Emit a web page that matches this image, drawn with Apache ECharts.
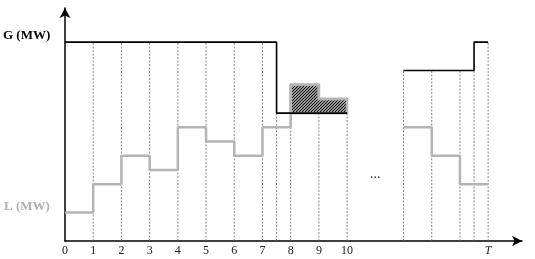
<!DOCTYPE html>
<html><head><meta charset="utf-8">
<script src="https://cdn.jsdelivr.net/npm/echarts@6/dist/echarts.min.js"></script>
<style>html,body{margin:0;padding:0;background:#fff}#c{width:535px;height:259px}</style>
</head><body><div id="c"></div>
<script>
// ---- data ----
const tickLabels = ['0','1','2','3','4','5','6','7','8','9','10'];
const tLabelPos = 15;             // position of "T"
// G (generation) steps: edges and values per interval
const gLeftEdges = [0, 7.5, 10];
const gLeftVals  = [14, 9];
const gRightEdges = [12, 14.5, 15];
const gRightVals  = [12, 14];
// L (load) steps
const lLeftEdges = [0,1,2,3,4,5,6,7,8,9,10];
const lLeftVals  = [2,4,6,5,8,7,6,8,11,10];
const lRightEdges = [12,13,14,15];
const lRightVals  = [8,6,4];
// deficit (hatched) region: L above G
const hatchEdges = [8, 9, 10];
const hatchL = [11, 10];
const hatchG = 9;
// dashed verticals
const dashX = [1,2,3,4,5,6,7,7.5,8,9,10,12,13,14,14.5,15];
const dotsPos = [11, 4.7];

function stepData(edges, vals){
  const d = edges.slice(0,-1).map((e,i)=>[e, vals[i]]);
  d.push([edges[edges.length-1], vals[vals.length-1]]);
  return d;
}
function gAt(x){
  const segs = [[gLeftEdges,gLeftVals],[gRightEdges,gRightVals]];
  let best = null;
  for (const [e,v] of segs){
    for (let i=0;i<v.length;i++){
      if (x>=e[i] && x<=e[i+1]) best = best===null ? v[i] : Math.min(best, v[i]);
    }
  }
  return best===null?0:best;
}
// hatch pattern
const pc = document.createElement('canvas');
pc.width = 3; pc.height = 3;
const g2 = pc.getContext('2d');
g2.fillStyle = '#fff'; g2.fillRect(0,0,3,3);
g2.strokeStyle = '#111'; g2.lineWidth = 1.3;
[[-1,4,4,-1],[-1,1,1,-1],[2,4,4,2]].forEach(([a,b,c,d])=>{
  g2.beginPath(); g2.moveTo(a,b); g2.lineTo(c,d); g2.stroke();
});

const serif = 'Liberation Serif';
const chart = echarts.init(document.getElementById('c'), null, {renderer:'canvas'});
chart.setOption({
  animation:false,
  grid:{left:65, right:13, top:8, bottom:18},
  xAxis:{type:'value', min:0, max:16.2, interval:1,
    axisLine:{show:true, symbol:['none','arrow'], symbolSize:[8,10], lineStyle:{color:'#000', width:1.5}},
    axisTick:{show:false}, splitLine:{show:false},
    axisLabel:{margin:4, fontFamily:serif, fontSize:12, color:'#222',
      formatter:v=> v<tickLabels.length && Number.isInteger(v) ? tickLabels[v] : (v===tLabelPos?'{t|T}':''),
      rich:{t:{fontStyle:'italic', fontFamily:serif, fontSize:12, color:'#222'}}}},
  yAxis:{type:'value', min:0, max:16.4,
    axisLine:{show:true, symbol:['none','arrow'], symbolSize:[8,10], lineStyle:{color:'#000', width:1.5}},
    axisTick:{show:false}, splitLine:{show:false}, axisLabel:{show:false}},
  graphic:[
    {type:'text', left:3, top:29, style:{text:'G (MW)', font:'bold 13px "Liberation Serif"', fill:'#000'}},
    {type:'text', left:4, top:200, style:{text:'L (MW)', font:'bold 13px "Liberation Serif"', fill:'#b0b0b0'}}
  ],
  series:[
    {type:'custom', z:1, silent:true,
      data: dashX.map(x=>[x, gAt(x)]),
      renderItem:(params, api)=>{
        const p0 = api.coord([api.value(0), 0]);
        const p1 = api.coord([api.value(0), api.value(1)]);
        return {type:'line', shape:{x1:p0[0], y1:p0[1], x2:p1[0], y2:p1[1]},
          style:{stroke:'#666', lineWidth:0.8, lineDash:[2,1.5]}};
      }},
    {type:'custom', z:2, silent:true, data:[[0]],
      renderItem:(params, api)=>{
        const pts = [api.coord([hatchEdges[0], hatchG])];
        for (let i=0;i<hatchL.length;i++){
          pts.push(api.coord([hatchEdges[i], hatchL[i]]));
          pts.push(api.coord([hatchEdges[i+1], hatchL[i]]));
        }
        pts.push(api.coord([hatchEdges[hatchEdges.length-1], hatchG]));
        return {type:'polygon', shape:{points:pts},
          style:{fill:{image:pc, repeat:'repeat'}, stroke:'#b4b4b4', lineWidth:2.5}};
      }},
    {type:'line', z:3, step:'end', data:stepData(lLeftEdges,lLeftVals), symbol:'none',
      lineStyle:{color:'#b4b4b4', width:2.5}},
    {type:'line', z:3, step:'end', data:stepData(lRightEdges,lRightVals), symbol:'none',
      lineStyle:{color:'#b4b4b4', width:2.5}},
    {type:'line', z:4, step:'end', data:stepData(gLeftEdges,gLeftVals), symbol:'none',
      lineStyle:{color:'#000', width:1.6}},
    {type:'line', z:4, step:'end', data:stepData(gRightEdges,gRightVals), symbol:'none',
      lineStyle:{color:'#000', width:1.6}},
    {type:'scatter', z:5, data:[dotsPos], symbolSize:0, silent:true,
      label:{show:true, position:'inside', formatter:'...', fontFamily:serif, fontSize:14, color:'#000'}}
  ]
});
</script></body></html>
